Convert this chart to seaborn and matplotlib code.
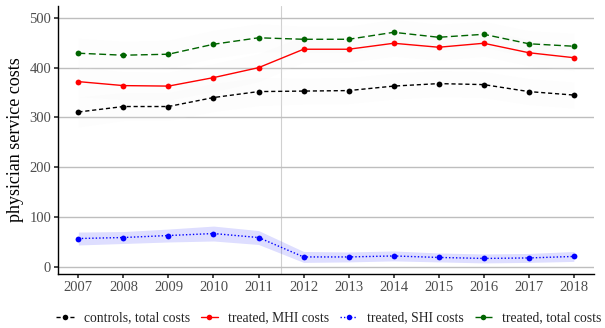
import numpy as np
import pandas as pd
import matplotlib
matplotlib.use("Agg")
import matplotlib.pyplot as plt
import seaborn as sns

years = [2007, 2008, 2009, 2010, 2011, 2012, 2013, 2014, 2015, 2016, 2017, 2018]
controls_total = [311, 322, 322, 340, 352, 353, 354, 363, 368, 366, 352, 345]
treated_mhi = [372, 364, 363, 380, 400, 437, 437, 449, 441, 449, 430, 420]
treated_shi = [57, 59, 63, 67, 59, 20, 20, 22, 19, 17, 18, 21]
treated_total = [429, 425, 427, 447, 460, 457, 457, 471, 461, 467, 448, 443]
shi_halfwidth = [13, 12, 13, 15, 14, 11, 10, 10, 9, 9, 9, 10]
top_halfwidth = [30, 28, 28, 28, 28, 26, 26, 26, 26, 26, 26, 26]
labels = ["controls, total costs", "treated, MHI costs", "treated, SHI costs", "treated, total costs"]
ylabel = "physician service costs"

sns.set_theme(style="white")
plt.rcParams['font.family'] = ['Liberation Serif', 'DejaVu Serif']

fig = plt.figure(figsize=(6.05, 3.28), dpi=100)
ax = fig.add_axes([0.096, 0.165, 0.886, 0.817])

series = [controls_total, treated_mhi, treated_shi, treated_total]
colors = ["black", "#ff0000", "#0000ff", "#006400"]
dashes = [(3, 2), "", (1, 1.5), (5, 2.5)]

rows = []
for lab, vals in zip(labels, series):
    for y, v in zip(years, vals):
        rows.append({"year": y, "value": v, "series": lab})
df = pd.DataFrame(rows)

# ribbons
for vals in [controls_total, treated_mhi, treated_total]:
    v = np.array(vals, float); h = np.array(top_halfwidth, float)
    ax.fill_between(years, v - h, v + h, color="#f0f0f0", alpha=0.12, lw=0, zorder=1)
v = np.array(treated_shi, float); h = np.array(shi_halfwidth, float)
ax.fill_between(years, v - h, v + h, color="#0000ff", alpha=0.13, lw=0, zorder=1)

for lab, c, d in zip(labels, colors, dashes):
    sub = df[df.series == lab]
    sns.lineplot(data=sub, x="year", y="value", ax=ax, color=c, lw=1.0,
                 marker="o", markersize=4.2, markeredgewidth=0, label=lab, zorder=3)
    line = ax.lines[-1]
    if d != "":
        line.set_dashes(d)

ax.axvline(2011.5, color="#d0d0d0", lw=0.8, zorder=0)

ax.set_xlim(2006.55, 2018.45)
ax.set_ylim(-14, 524)
ax.set_yticks([0, 100, 200, 300, 400, 500])
ax.set_xticks(years)
ax.set_xticklabels([str(y) for y in years])
ax.yaxis.grid(True, color="#bebebe", lw=1.0)
ax.xaxis.grid(False)
for s in ["top", "right"]:
    ax.spines[s].set_visible(False)
for s in ["left", "bottom"]:
    ax.spines[s].set_color("black")
    ax.spines[s].set_linewidth(1.0)
ax.tick_params(axis="both", labelsize=10.5, labelcolor="#4d4d4d", length=3, color="#333333",
               left=True, bottom=True, pad=2)
ax.set_xlabel("")
ax.set_ylabel(ylabel, fontsize=13, color="black", labelpad=4)

leg = ax.legend(loc="upper center", bbox_to_anchor=(0.505, -0.095), ncol=4, frameon=False,
                fontsize=9.8, handlelength=1.3, columnspacing=0.8, handletextpad=0.7)
for h in leg.legend_handles:
    h.set_markersize(4)

fig.savefig("out.png", dpi=100)
